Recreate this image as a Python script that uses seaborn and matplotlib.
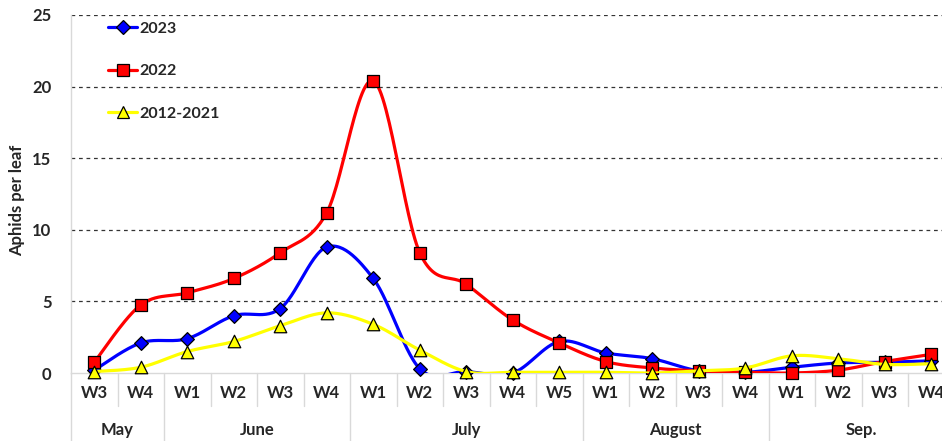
import numpy as np
import pandas as pd
import matplotlib
matplotlib.use("Agg")
import matplotlib.pyplot as plt
import matplotlib.transforms as mtransforms
from matplotlib.lines import Line2D
import seaborn as sns

# ---------- DATA ----------
WEEKS = ["W3", "W4", "W1", "W2", "W3", "W4", "W1", "W2", "W3", "W4", "W5",
         "W1", "W2", "W3", "W4", "W1", "W2", "W3", "W4"]
MONTHS = ["May", "June", "July", "August", "Sep."]
MONTH_SIZES = [2, 4, 5, 4, 4]

Y_2023 = [0.2, 2.1, 2.4, 4.0, 4.5, 8.8, 6.6, 0.3, 0.1, 0.0, 2.2,
          1.4, 1.0, 0.15, 0.05, 0.4, 0.7, 0.75, 0.85]
Y_2022 = [0.75, 4.75, 5.6, 6.6, 8.4, 11.2, 20.4, 8.4, 6.2, 3.7, 2.1,
          0.8, 0.35, 0.15, 0.05, 0.0, 0.2, 0.8, 1.3]
Y_HIST = [0.1, 0.4, 1.5, 2.2, 3.3, 4.2, 3.4, 1.6, 0.1, 0.05, 0.05,
          0.05, 0.0, 0.15, 0.35, 1.2, 1.0, 0.6, 0.65]

SERIES = [
    ("2023", Y_2023, "#0000FF", "D", 7),
    ("2022", Y_2022, "#FF0000", "s", 8.5),
    ("2012-2021", Y_HIST, "#FFFF00", "^", 9),
]


def smooth(y, n=30):
    # Excel-style smoothed line (Catmull-Rom as cubic Bezier)
    y = np.asarray(y, dtype=float)
    x = np.arange(len(y), dtype=float)
    px = np.concatenate([[x[0]], x, [x[-1]]])
    py = np.concatenate([[y[0]], y, [y[-1]]])
    xs, ys = [], []
    t = np.linspace(0, 1, n)
    for i in range(len(y) - 1):
        p0x, p1x, p2x, p3x = px[i], px[i + 1], px[i + 2], px[i + 3]
        p0y, p1y, p2y, p3y = py[i], py[i + 1], py[i + 2], py[i + 3]
        b1x, b1y = p1x + (p2x - p0x) / 6, p1y + (p2y - p0y) / 6
        b2x, b2y = p2x - (p3x - p1x) / 6, p2y - (p3y - p1y) / 6
        bx = (1 - t) ** 3 * p1x + 3 * (1 - t) ** 2 * t * b1x + 3 * (1 - t) * t ** 2 * b2x + t ** 3 * p2x
        by = (1 - t) ** 3 * p1y + 3 * (1 - t) ** 2 * t * b1y + 3 * (1 - t) * t ** 2 * b2y + t ** 3 * p2y
        xs.extend(bx)
        ys.extend(by)
    return np.array(xs), np.array(ys)


sns.set_style("white")
plt.rcParams["font.family"] = ["Lato", "DejaVu Sans"]
plt.rcParams["font.weight"] = "bold"

fig = plt.figure(figsize=(9.42, 4.41), dpi=100)
ax = fig.add_axes([71 / 942, 68 / 441, 871 / 942, 358 / 441])

handles = []
for z, (name, vals, color, marker, ms) in enumerate(SERIES):
    sx, sy = smooth(vals)
    curve = pd.DataFrame({"x": sx, "y": sy})
    sns.lineplot(data=curve, x="x", y="y", sort=False, estimator=None,
                 color=color, linewidth=2.3, ax=ax, zorder=3 + z)
    pts = pd.DataFrame({"x": np.arange(len(vals)), "y": vals})
    sns.scatterplot(data=pts, x="x", y="y", marker=marker, s=ms ** 2,
                    color=color, edgecolor="black", linewidth=0.9,
                    ax=ax, zorder=3.5 + z, clip_on=False)
    handles.append(Line2D([], [], color=color, lw=2.3, marker=marker,
                          markersize=ms, markerfacecolor=color,
                          markeredgecolor="black", markeredgewidth=0.9,
                          label=name))

ax.set_xlim(-0.5, 18.23)
ax.set_ylim(0, 25)
ax.set_yticks([0, 5, 10, 15, 20, 25])
ax.tick_params(axis="y", length=0, pad=14, labelsize=12)
ax.tick_params(axis="x", length=0, pad=9, labelsize=12)
ax.set_xticks(np.arange(len(WEEKS)))
ax.set_xticklabels(WEEKS, fontweight="bold")
for lab in ax.get_yticklabels():
    lab.set_fontweight("bold")
ax.set_xlabel("")
ax.set_ylabel("Aphids per leaf", fontsize=12, fontweight="bold")
ax.yaxis.set_label_coords(-0.053, 0.483)

ax.grid(axis="y", color="#333333", linestyle=(0, (3, 3)), linewidth=0.9)
ax.grid(axis="x", visible=False)
ax.yaxis.get_gridlines()[0].set_visible(False)
ax.set_axisbelow(True)

for side in ["top", "right"]:
    ax.spines[side].set_visible(False)
for side in ["left", "bottom"]:
    ax.spines[side].set_color("#d9d9d9")
    ax.spines[side].set_linewidth(1)

# two level category axis
trans = mtransforms.blended_transform_factory(ax.transData, ax.transAxes)
bounds = np.cumsum([0] + MONTH_SIZES)
month_edges = set(bounds[:-1].tolist())
for b in range(len(WEEKS)):
    xb = b - 0.5
    low = -0.19 if b in month_edges else -0.092
    ax.plot([xb, xb], [0, low], transform=trans, color="#d9d9d9",
            lw=1, clip_on=False)
for i, m in enumerate(MONTHS):
    center = (bounds[i] + bounds[i + 1] - 1) / 2
    ax.text(center, -0.158, m, transform=trans, ha="center", va="center",
            fontsize=12, fontweight="bold")

leg = ax.legend(handles=handles, loc="upper left",
                bbox_to_anchor=(0.033, 1.004), frameon=False, borderpad=0,
                handlelength=1.85, handletextpad=0.15, labelspacing=1.78,
                prop={"weight": "bold", "size": 11.5})

fig.savefig("out.png", dpi=100)
